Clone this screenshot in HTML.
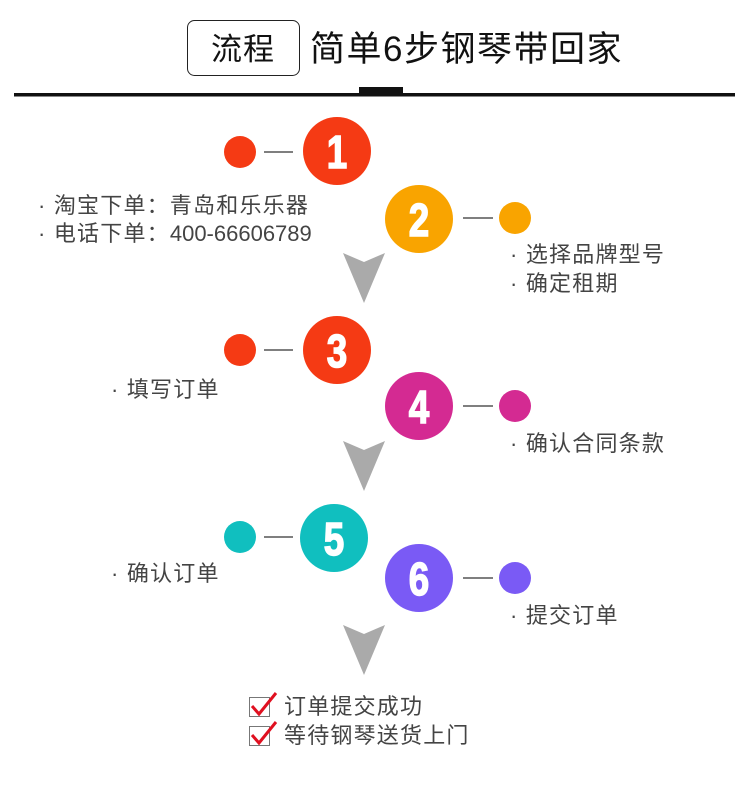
<!DOCTYPE html>
<html><head><meta charset="utf-8"><style>
html,body{margin:0;padding:0;background:#fff;}
svg text{font-family:"Liberation Sans","Noto Sans CJK SC",sans-serif;}
</style></head><body>
<svg width="750" height="792" viewBox="0 0 750 792" xmlns="http://www.w3.org/2000/svg">
<rect x="187.5" y="20.5" width="112" height="55" rx="7" fill="#fff" stroke="#222" stroke-width="1"/>
<text x="243" y="60" font-size="31" text-anchor="middle" fill="#111" letter-spacing="1">流程</text>
<text x="310" y="61" font-size="35" fill="#111" letter-spacing="1.5">简单6步钢琴带回家</text>
<rect x="14" y="93" width="721" height="3.5" fill="#111"/>
<rect x="359" y="87" width="44" height="7" fill="#111"/>

<g stroke="#555" stroke-width="1.5">
<line x1="264" y1="152" x2="293" y2="152"/>
<line x1="463" y1="218" x2="493" y2="218"/>
<line x1="264" y1="350" x2="293" y2="350"/>
<line x1="463" y1="406" x2="493" y2="406"/>
<line x1="264" y1="537" x2="293" y2="537"/>
<line x1="463" y1="578" x2="493" y2="578"/>
</g>

<circle cx="240" cy="152" r="16" fill="#f53a14"/>
<circle cx="337" cy="151" r="34" fill="#f53a14"/>
<circle cx="515" cy="218" r="16" fill="#f9a400"/>
<circle cx="419" cy="219" r="34" fill="#f9a400"/>
<circle cx="240" cy="350" r="16" fill="#f53a14"/>
<circle cx="337" cy="350" r="34" fill="#f53a14"/>
<circle cx="515" cy="406" r="16" fill="#d42a92"/>
<circle cx="419" cy="406" r="34" fill="#d42a92"/>
<circle cx="240" cy="537" r="16" fill="#10bfbf"/>
<circle cx="334" cy="538" r="34" fill="#10bfbf"/>
<circle cx="515" cy="578" r="16" fill="#7a5af5"/>
<circle cx="419" cy="578" r="34" fill="#7a5af5"/>

<g font-size="46" font-weight="bold" fill="#fff" text-anchor="middle" stroke="#fff" stroke-width="1.5">
<text x="337" y="168" transform="translate(337 0) scale(0.8 1) translate(-337 0)">1</text>
<text x="419" y="236" transform="translate(419 0) scale(0.8 1) translate(-419 0)">2</text>
<text x="337" y="367" transform="translate(337 0) scale(0.8 1) translate(-337 0)">3</text>
<text x="419" y="423" transform="translate(419 0) scale(0.8 1) translate(-419 0)">4</text>
<text x="334" y="555" transform="translate(334 0) scale(0.8 1) translate(-334 0)">5</text>
<text x="419" y="595" transform="translate(419 0) scale(0.8 1) translate(-419 0)">6</text>
</g>

<g fill="#aaaaaa">
<path d="M343 253 L364 262 L385 253 L364 303 Z"/>
<path d="M343 441 L364 450 L385 441 L364 491 Z"/>
<path d="M343 625 L364 634 L385 625 L364 675 Z"/>
</g>

<g font-size="22" fill="#444" letter-spacing="1.2">
<text x="38" y="213">· 淘宝下单：青岛和乐乐器</text>
<text x="38" y="241">· 电话下单：<tspan letter-spacing="0">400-66606789</tspan></text>
<text x="510" y="262">· 选择品牌型号</text>
<text x="510" y="291">· 确定租期</text>
<text x="111" y="397">· 填写订单</text>
<text x="510" y="451">· 确认合同条款</text>
<text x="111" y="581">· 确认订单</text>
<text x="510" y="623">· 提交订单</text>
<text x="284" y="714">订单提交成功</text>
<text x="284" y="743">等待钢琴送货上门</text>
</g>

<g>
<rect x="249.5" y="697.5" width="20" height="19" fill="#fff" stroke="#777" stroke-width="1"/>
<path d="M252 706 L259 714 L276 693" fill="none" stroke="#e01020" stroke-width="3"/>
<rect x="249.5" y="726.5" width="20" height="19" fill="#fff" stroke="#777" stroke-width="1"/>
<path d="M252 735 L259 743 L276 722" fill="none" stroke="#e01020" stroke-width="3"/>
</g>
</svg>
</body></html>
